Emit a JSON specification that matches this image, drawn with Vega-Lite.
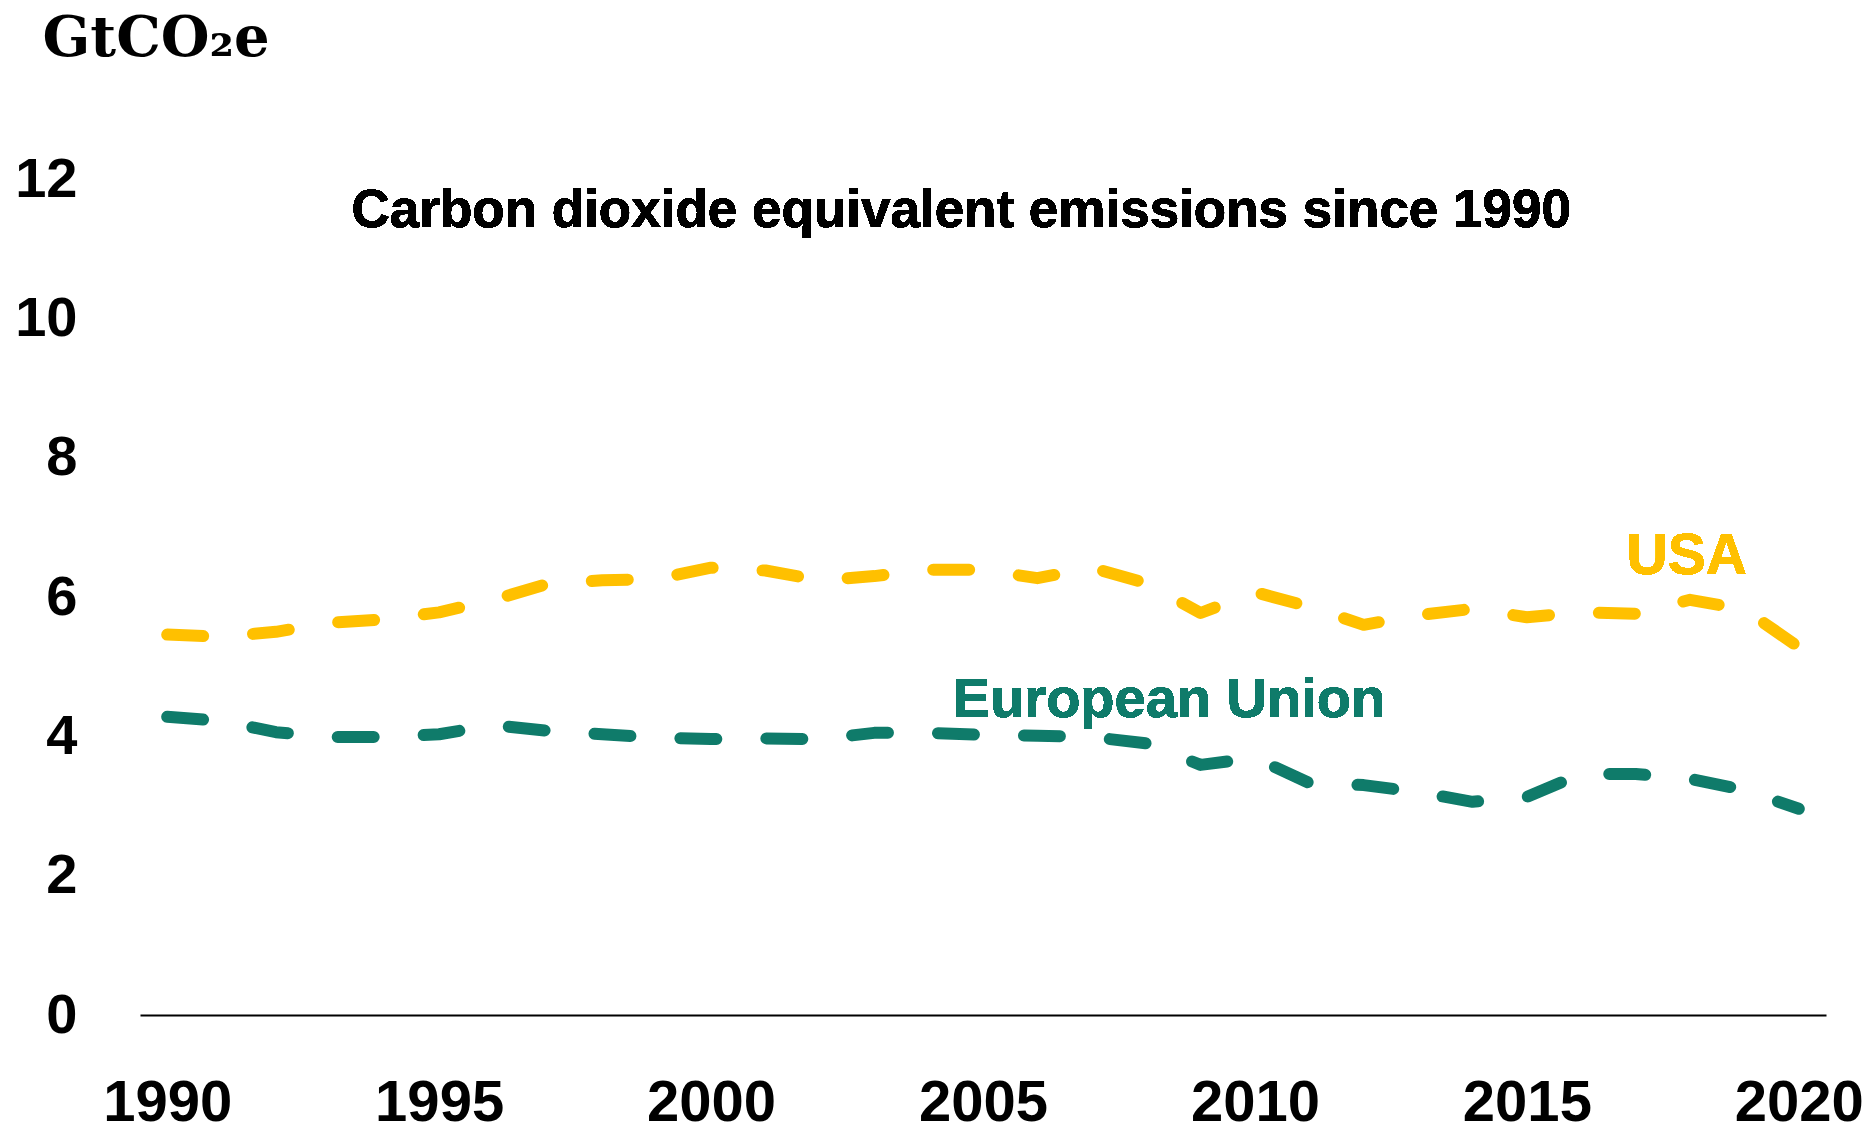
{
  "$schema": "https://vega.github.io/schema/vega-lite/v6.json",
  "width": 1686,
  "height": 836,
  "autosize": {"type": "none"},
  "padding": {"left": 140, "top": 179, "right": 44, "bottom": 112},
  "background": "white",
  "config": {"view": {"stroke": null}},
  "data": {
    "values": [
      {"year": 1990, "region": "USA", "value": 5.46},
      {"year": 1991, "region": "USA", "value": 5.43},
      {"year": 1992, "region": "USA", "value": 5.50},
      {"year": 1993, "region": "USA", "value": 5.63},
      {"year": 1994, "region": "USA", "value": 5.68},
      {"year": 1995, "region": "USA", "value": 5.78},
      {"year": 1996, "region": "USA", "value": 5.96},
      {"year": 1997, "region": "USA", "value": 6.19},
      {"year": 1998, "region": "USA", "value": 6.24},
      {"year": 1999, "region": "USA", "value": 6.26},
      {"year": 2000, "region": "USA", "value": 6.42},
      {"year": 2001, "region": "USA", "value": 6.38},
      {"year": 2002, "region": "USA", "value": 6.24},
      {"year": 2003, "region": "USA", "value": 6.30},
      {"year": 2004, "region": "USA", "value": 6.39},
      {"year": 2005, "region": "USA", "value": 6.39},
      {"year": 2006, "region": "USA", "value": 6.27},
      {"year": 2007, "region": "USA", "value": 6.42},
      {"year": 2008, "region": "USA", "value": 6.20},
      {"year": 2009, "region": "USA", "value": 5.77},
      {"year": 2010, "region": "USA", "value": 6.07},
      {"year": 2011, "region": "USA", "value": 5.86},
      {"year": 2012, "region": "USA", "value": 5.60},
      {"year": 2013, "region": "USA", "value": 5.74},
      {"year": 2014, "region": "USA", "value": 5.83},
      {"year": 2015, "region": "USA", "value": 5.71},
      {"year": 2016, "region": "USA", "value": 5.78},
      {"year": 2017, "region": "USA", "value": 5.76},
      {"year": 2018, "region": "USA", "value": 5.96},
      {"year": 2019, "region": "USA", "value": 5.82},
      {"year": 2020, "region": "USA", "value": 5.28},
      {"year": 1990, "region": "European Union", "value": 4.28},
      {"year": 1991, "region": "European Union", "value": 4.22},
      {"year": 1992, "region": "European Union", "value": 4.06},
      {"year": 1993, "region": "European Union", "value": 3.99},
      {"year": 1994, "region": "European Union", "value": 3.99},
      {"year": 1995, "region": "European Union", "value": 4.03},
      {"year": 1996, "region": "European Union", "value": 4.16},
      {"year": 1997, "region": "European Union", "value": 4.08},
      {"year": 1998, "region": "European Union", "value": 4.03},
      {"year": 1999, "region": "European Union", "value": 3.98},
      {"year": 2000, "region": "European Union", "value": 3.96},
      {"year": 2001, "region": "European Union", "value": 3.97},
      {"year": 2002, "region": "European Union", "value": 3.96},
      {"year": 2003, "region": "European Union", "value": 4.05},
      {"year": 2004, "region": "European Union", "value": 4.05},
      {"year": 2005, "region": "European Union", "value": 4.02},
      {"year": 2006, "region": "European Union", "value": 4.01},
      {"year": 2007, "region": "European Union", "value": 3.99},
      {"year": 2008, "region": "European Union", "value": 3.90},
      {"year": 2009, "region": "European Union", "value": 3.59},
      {"year": 2010, "region": "European Union", "value": 3.69},
      {"year": 2011, "region": "European Union", "value": 3.33},
      {"year": 2012, "region": "European Union", "value": 3.30},
      {"year": 2013, "region": "European Union", "value": 3.20},
      {"year": 2014, "region": "European Union", "value": 3.06},
      {"year": 2015, "region": "European Union", "value": 3.13},
      {"year": 2016, "region": "European Union", "value": 3.46},
      {"year": 2017, "region": "European Union", "value": 3.46},
      {"year": 2018, "region": "European Union", "value": 3.39},
      {"year": 2019, "region": "European Union", "value": 3.23},
      {"year": 2020, "region": "European Union", "value": 2.96}
    ]
  },
  "layer": [
    {
      "mark": {"type": "line", "strokeDash": [36, 50], "strokeCap": "round", "strokeJoin": "round", "strokeWidth": 12},
      "encoding": {
        "x": {
          "field": "year", "type": "quantitative",
          "scale": {"domain": [1989.5, 2020.5], "nice": false, "zero": false},
          "axis": {
            "title": null, "values": [1990, 1995, 2000, 2005, 2010, 2015, 2020], "format": "d",
            "grid": false, "ticks": false, "domain": true, "domainColor": "black", "domainWidth": 2,
            "labelFont": "'Liberation Sans', Arial, sans-serif",
            "labelFontSize": 58, "labelFontWeight": "bold", "labelColor": "black",
            "labelBaseline": "alphabetic", "labelPadding": 105, "labelFlush": false, "labelOverlap": false
          }
        },
        "y": {
          "field": "value", "type": "quantitative",
          "scale": {"domain": [0, 12], "nice": false},
          "axis": {
            "title": "GtCO₂e", "titleAngle": 0, "titleAlign": "left", "titleBaseline": "alphabetic",
            "titleX": -98, "titleY": -124, "titleFont": "'DejaVu Serif', serif", "titleFontSize": 56,
            "titleFontWeight": "bold", "titleColor": "black",
            "values": [0, 2, 4, 6, 8, 10, 12], "format": "d", "grid": false, "ticks": false, "domain": false,
            "labelFont": "'Liberation Sans', Arial, sans-serif", "labelFontSize": 56,
            "labelFontWeight": "bold", "labelColor": "black", "labelPadding": 63
          }
        },
        "color": {
          "field": "region", "type": "nominal",
          "scale": {"domain": ["USA", "European Union"], "range": ["#FFC000", "#0F7B6A"]},
          "legend": null
        }
      }
    },
    {
      "mark": {"type": "text", "text": "Carbon dioxide equivalent emissions since 1990", "font": "'Liberation Sans', Arial, sans-serif", "fontSize": 53, "fontWeight": "bold", "color": "black", "align": "center", "baseline": "middle"},
      "encoding": {"x": {"datum": 2004.6, "type": "quantitative"}, "y": {"datum": 11.54, "type": "quantitative"}}
    },
    {
      "mark": {"type": "text", "text": "USA", "font": "'Liberation Sans', Arial, sans-serif", "fontSize": 57, "fontWeight": "bold", "color": "#FFC000", "align": "center", "baseline": "middle"},
      "encoding": {"x": {"datum": 2017.94, "type": "quantitative"}, "y": {"datum": 6.57, "type": "quantitative"}}
    },
    {
      "mark": {"type": "text", "text": "European Union", "font": "'Liberation Sans', Arial, sans-serif", "fontSize": 56, "fontWeight": "bold", "color": "#0F7B6A", "align": "center", "baseline": "middle"},
      "encoding": {"x": {"datum": 2008.42, "type": "quantitative"}, "y": {"datum": 4.52, "type": "quantitative"}}
    }
  ]
}
